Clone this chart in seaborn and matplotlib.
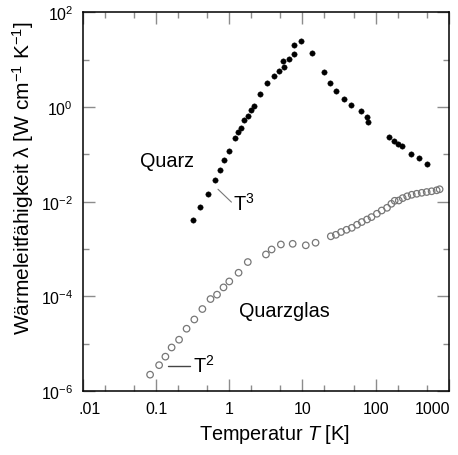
import matplotlib
matplotlib.use("Agg")
import matplotlib.pyplot as plt
import matplotlib.ticker as mticker
import matplotlib.transforms as mtrans
import seaborn as sns
import pandas as pd
import numpy as np

# ---- data ----
quarz_T = [0.323, 0.398, 0.512, 0.632, 0.740, 0.847, 1.0, 1.21, 1.31, 1.43, 1.60,
           1.80, 1.96, 2.17, 2.62, 3.30, 4.07, 4.72, 5.57, 5.45, 6.59, 7.63, 7.63,
           9.42, 13.6, 19.6, 23.9, 28.3, 37.5, 46.0, 62.7, 76.3, 79.3, 151, 179,
           202, 227, 301, 390, 503]
quarz_k = [4.2e-3, 7.7e-3, 0.0147, 0.0294, 0.0471, 0.0777, 0.119, 0.220, 0.294,
           0.362, 0.542, 0.640, 0.855, 1.05, 1.89, 3.18, 4.59, 5.69, 7.11, 9.39,
           10.3, 13.4, 20.1, 24.8, 14.1, 5.42, 3.22, 2.19, 1.45, 1.08, 0.815,
           0.618, 0.490, 0.229, 0.190, 0.167, 0.150, 0.103, 0.0844, 0.064]

glas_T = [0.0828, 0.110, 0.134, 0.163, 0.206, 0.261, 0.333, 0.429, 0.554, 0.680,
          0.834, 1.0, 1.34, 1.79, 3.17, 3.79, 5.07, 7.35, 11.1, 15.1, 24.4, 28.6,
          33.7, 40.0, 47.2, 55.7, 64.6, 76.3, 87.7, 104, 121, 143, 164, 182, 207,
          234, 270, 311, 364, 426, 498, 582, 682, 748]
glas_k = [2.23e-6, 3.54e-6, 5.35e-6, 8.36e-6, 1.22e-5, 2.08e-5, 3.26e-5, 5.42e-5,
          8.8e-5, 1.09e-4, 1.55e-4, 2.07e-4, 3.16e-4, 5.32e-4, 7.69e-4, 9.8e-4,
          1.25e-3, 1.29e-3, 1.20e-3, 1.36e-3, 1.86e-3, 2.00e-3, 2.29e-3, 2.55e-3,
          2.81e-3, 3.26e-3, 3.72e-3, 4.21e-3, 4.73e-3, 5.56e-3, 6.52e-3, 7.43e-3,
          9.03e-3, 0.01045, 0.0106, 0.0119, 0.0130, 0.0140, 0.0147, 0.0154,
          0.0160, 0.0166, 0.0174, 0.0183]

x_ticks = [0.01, 0.1, 1, 10, 100, 1000]
x_ticklabels = [".01", "0.1", "1", "10", "100", "1000"]
y_ticks = [1e-6, 1e-4, 1e-2, 1e0, 1e2]
y_ticklabels = ["$10^{-6}$", "$10^{-4}$", "$10^{-2}$", "$10^{0}$", "$10^{2}$"]

# ---- style ----
sns.set_style("ticks")
plt.rcParams["font.family"] = ["Liberation Sans", "DejaVu Sans"]
plt.rcParams["mathtext.fontset"] = "custom"
plt.rcParams["mathtext.rm"] = "Liberation Sans"
plt.rcParams["mathtext.it"] = "Liberation Sans:italic"
plt.rcParams["mathtext.default"] = "regular"
plt.rcParams["text.color"] = "black"
plt.rcParams["axes.labelcolor"] = "black"
plt.rcParams["xtick.labelcolor"] = "black"
plt.rcParams["ytick.labelcolor"] = "black"

df_q = pd.DataFrame({"T": quarz_T, "k": quarz_k})
df_g = pd.DataFrame({"T": glas_T, "k": glas_k})

fig = plt.figure(figsize=(4.58, 4.56), dpi=100)
ax = fig.add_axes([0.181, 0.140, 0.799, 0.831])

sns.scatterplot(data=df_q, x="T", y="k", ax=ax, color="black", s=15,
                edgecolor="black", linewidth=0.3, zorder=3)
sns.scatterplot(data=df_g, x="T", y="k", ax=ax, marker="o", s=22,
                facecolor="none", edgecolor="#777777", linewidth=0.9, zorder=3)

ax.set_xscale("log")
ax.set_yscale("log")
ax.set_xlim(0.01, 1000)
ax.set_ylim(1e-6, 1e2)

ax.xaxis.set_major_locator(mticker.FixedLocator(x_ticks))
ax.xaxis.set_major_formatter(mticker.FixedFormatter(x_ticklabels))
ax.xaxis.set_minor_locator(mticker.LogLocator(base=10, subs=(2.0, 5.0), numticks=20))
ax.xaxis.set_minor_formatter(mticker.NullFormatter())

ax.yaxis.set_major_locator(mticker.FixedLocator(y_ticks))
ax.yaxis.set_major_formatter(mticker.FixedFormatter(y_ticklabels))
ax.yaxis.set_minor_locator(mticker.FixedLocator([1e-5, 1e-3, 1e-1, 1e1]))
ax.yaxis.set_minor_formatter(mticker.NullFormatter())

for side in ["left", "right", "top", "bottom"]:
    ax.spines[side].set_visible(True)
    ax.spines[side].set_color("black")
    ax.spines[side].set_linewidth(1.1)

ax.tick_params(which="both", direction="in", top=True, right=True,
               color="#8c8c8c", width=1.0, labelsize=11.5, labelcolor="black")
ax.tick_params(which="major", length=8.5, pad=7)
ax.tick_params(which="minor", length=4.5)

# shift first and last x tick labels inward, as in the reference
xlabels = ax.get_xticklabels()
xlabels[0].set_transform(xlabels[0].get_transform() +
                         mtrans.ScaledTranslation(5 / 72, 0, fig.dpi_scale_trans))
xlabels[-1].set_transform(xlabels[-1].get_transform() +
                          mtrans.ScaledTranslation(-12 / 72, 0, fig.dpi_scale_trans))

ax.set_xlabel("Temperatur $\\mathit{T}$ [K]", fontsize=14.3, color="black")
ax.xaxis.set_label_coords(0.522, -0.082)
ax.set_ylabel("Wärmeleitfähigkeit λ [W cm$^{-1}$ K$^{-1}$]", fontsize=15, color="black")
ax.yaxis.set_label_coords(-0.128, 0.565)

# annotations
ax.text(0.142, 0.0726, "Quarz", fontsize=14.3, ha="center", va="center", color="black")
ax.text(5.75, 5.0e-5, "Quarzglas", fontsize=14.3, ha="center", va="center", color="black")
ax.plot([0.701, 1.07], [0.0183, 0.0098], color="#777777", lw=0.8)
ax.text(1.12, 0.0095, "T$^{3}$", fontsize=14.3, ha="left", va="center", color="black")
ax.plot([0.146, 0.291], [3.45e-6, 3.45e-6], color="#444444", lw=1.0)
ax.text(0.32, 3.6e-6, "T$^{2}$", fontsize=14.3, ha="left", va="center", color="black")

fig.savefig("out.png", dpi=100)
